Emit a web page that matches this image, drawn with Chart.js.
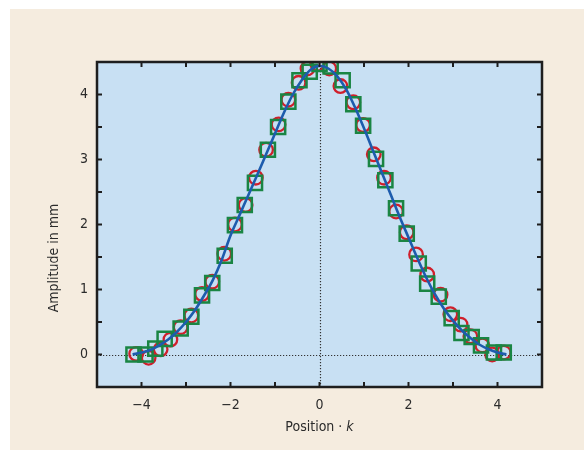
<!DOCTYPE html>
<html>
<head>
<meta charset="utf-8">
<script src="https://cdn.jsdelivr.net/npm/chart.js@4"></script>
<style>
  html, body { margin: 0; padding: 0; background: #ffffff; }
  #wrap { width: 584px; height: 450px; }
</style>
</head>
<body>
<div id="wrap"><canvas id="myChart" width="584" height="450"></canvas></div>
<script>
// Measured points (squares)
var squareX = [-4.18, -3.91, -3.69, -3.48, -3.12, -2.88, -2.64, -2.41, -2.13, -1.90, -1.68, -1.45, -1.16, -0.93, -0.70, -0.45, -0.22, 0.00,
               0.25, 0.52, 0.76, 0.98, 1.27, 1.48, 1.72, 1.96, 2.23, 2.42, 2.68, 2.97, 3.19, 3.42, 3.63, 3.92, 4.14];
var squareY = [0.00, 0.00, 0.09, 0.24, 0.40, 0.58, 0.91, 1.10, 1.52, 1.99, 2.30, 2.64, 3.15, 3.50, 3.89, 4.22, 4.35, 4.47,
               4.43, 4.22, 3.85, 3.52, 3.01, 2.68, 2.25, 1.86, 1.40, 1.09, 0.89, 0.56, 0.33, 0.27, 0.14, 0.03, 0.03];

// Measured points (circles)
var circleX = [-4.12, -3.84, -3.57, -3.35, -3.12, -2.88, -2.64, -2.41, -2.14, -1.90, -1.66, -1.43, -1.20, -0.92, -0.70, -0.47, -0.27, -0.05,
               0.22, 0.47, 0.76, 0.98, 1.22, 1.45, 1.72, 1.96, 2.17, 2.42, 2.72, 2.94, 3.17, 3.39, 3.66, 3.88, 4.14];
var circleY = [0.01, -0.05, 0.08, 0.23, 0.42, 0.60, 0.93, 1.12, 1.55, 2.00, 2.30, 2.72, 3.15, 3.54, 3.92, 4.18, 4.40, 4.47,
               4.40, 4.13, 3.88, 3.53, 3.08, 2.72, 2.20, 1.88, 1.54, 1.23, 0.92, 0.62, 0.46, 0.28, 0.14, 0.00, 0.03];

// Fitted curve
var curveX = [-4.2, -4.0, -3.8, -3.6, -3.4, -3.2, -3.0, -2.8, -2.6, -2.4, -2.2, -2.0, -1.8, -1.6, -1.4, -1.2, -1.0, -0.8, -0.6, -0.4, -0.2, 0.0,
              0.2, 0.4, 0.6, 0.8, 1.0, 1.2, 1.4, 1.6, 1.8, 2.0, 2.2, 2.4, 2.6, 2.8, 3.0, 3.2, 3.4, 3.6, 3.8, 4.0, 4.2];
var curveY = [0.00, 0.03, 0.07, 0.14, 0.23, 0.35, 0.50, 0.68, 0.90, 1.14, 1.45, 1.83, 2.14, 2.45, 2.76, 3.08, 3.40, 3.72, 4.00, 4.22, 4.38, 4.44,
              4.40, 4.28, 4.08, 3.80, 3.48, 3.14, 2.80, 2.46, 2.12, 1.80, 1.48, 1.18, 0.92, 0.70, 0.52, 0.37, 0.25, 0.15, 0.08, 0.03, 0.00];

var xTicks = [-4, -2, 0, 2, 4];
var yTicks = [0, 1, 2, 3, 4];

function toPoints(xs, ys) {
    return xs.map(function (x, i) { return { x: x, y: ys[i] }; });
}

var FONT = "'Liberation Sans Narrow', 'DejaVu Sans Condensed', sans-serif";
var TEXT = "#2b2b2b";

// Backgrounds, dotted zero lines, frame, inward ticks and axis titles
var decor = {
    id: "decor",
    beforeDraw: function (chart) {
        var ctx = chart.ctx, a = chart.chartArea;
        ctx.save();
        ctx.fillStyle = "#ffffff";
        ctx.fillRect(0, 0, chart.width, chart.height);
        ctx.fillStyle = "#f5ecdf";
        ctx.fillRect(10, 9, chart.width - 10, chart.height - 9);
        ctx.fillStyle = "#c8e0f3";
        ctx.fillRect(a.left, a.top, a.right - a.left, a.bottom - a.top);
        ctx.restore();
    },
    beforeDatasetsDraw: function (chart) {
        var ctx = chart.ctx, a = chart.chartArea;
        var x0 = Math.round(chart.scales.x.getPixelForValue(0)) + 0.5;
        var y0 = Math.round(chart.scales.y.getPixelForValue(0)) + 0.5;
        ctx.save();
        ctx.strokeStyle = "#333333";
        ctx.lineWidth = 1.2;
        ctx.setLineDash([1.2, 1.8]);
        ctx.beginPath();
        ctx.moveTo(x0, a.top); ctx.lineTo(x0, a.bottom);
        ctx.moveTo(a.left, y0); ctx.lineTo(a.right, y0);
        ctx.stroke();
        ctx.restore();
    },
    afterDraw: function (chart) {
        var ctx = chart.ctx, a = chart.chartArea;
        var xs = chart.scales.x, ys = chart.scales.y;
        ctx.save();
        ctx.strokeStyle = "#1e1e1e";
        ctx.lineWidth = 2;
        var v, p;
        ctx.beginPath();
        for (v = -4; v <= 4; v += 1) {
            p = xs.getPixelForValue(v);
            ctx.moveTo(p, a.bottom); ctx.lineTo(p, a.bottom - 5);
            ctx.moveTo(p, a.top); ctx.lineTo(p, a.top + 5);
        }
        for (v = 0; v <= 4; v += 0.5) {
            p = ys.getPixelForValue(v);
            ctx.moveTo(a.left, p); ctx.lineTo(a.left + 5, p);
            ctx.moveTo(a.right, p); ctx.lineTo(a.right - 5, p);
        }
        ctx.stroke();
        ctx.lineWidth = 2.5;
        ctx.strokeRect(a.left, a.top, a.right - a.left, a.bottom - a.top);

        // axis titles
        ctx.fillStyle = TEXT;
        ctx.textBaseline = "middle";
        var t1 = "Position · ", t2 = "k";
        ctx.font = "14px " + FONT;
        var w1 = ctx.measureText(t1).width;
        ctx.font = "italic 14px " + FONT;
        var w2 = ctx.measureText(t2).width;
        var cx = (a.left + a.right) / 2 - (w1 + w2) / 2;
        ctx.textAlign = "left";
        ctx.font = "14px " + FONT;
        ctx.fillText(t1, cx, 427);
        ctx.font = "italic 14px " + FONT;
        ctx.fillText(t2, cx + w1, 427);

        ctx.translate(54, 258);
        ctx.rotate(-Math.PI / 2);
        ctx.textAlign = "center";
        ctx.font = "14px " + FONT;
        ctx.fillText("Amplitude in mm", 0, 0);
        ctx.restore();
    }
};

var ctx = document.getElementById("myChart").getContext("2d");

var myChart = new Chart(ctx, {
    type: "scatter",
    data: {
        datasets: [
            {
                label: "Fit",
                type: "line",
                data: toPoints(curveX, curveY),
                borderColor: "#1d5cad",
                borderWidth: 2.6,
                pointRadius: 0,
                fill: false,
                cubicInterpolationMode: "monotone",
                order: 0,
            },
            {
                label: "Squares",
                data: toPoints(squareX, squareY),
                pointStyle: "rect",
                pointRadius: 10,
                pointBorderWidth: 2.5,
                borderColor: "#1a8543",
                backgroundColor: "rgba(0,0,0,0)",
                order: 1,
            },
            {
                label: "Circles",
                data: toPoints(circleX, circleY),
                pointStyle: "circle",
                pointRadius: 6.8,
                pointBorderWidth: 2.3,
                borderColor: "#d01f2b",
                backgroundColor: "rgba(0,0,0,0)",
                order: 2,
            },
        ],
    },
    options: {
        responsive: false,
        animation: false,
        layout: { padding: { top: 62, right: 42, left: 0, bottom: 0 } },
        plugins: {
            legend: { display: false },
            tooltip: { enabled: false },
        },
        scales: {
            x: {
                type: "linear",
                min: -5,
                max: 5,
                afterFit: function (s) { s.height = 63; },
                afterBuildTicks: function (s) {
                    s.ticks = xTicks.map(function (v) { return { value: v }; });
                },
                grid: { display: false, drawTicks: false },
                border: { display: false },
                ticks: {
                    padding: 10,
                    color: TEXT,
                    font: { family: FONT, size: 14 },
                    maxRotation: 0,
                    callback: function (v) { return v < 0 ? "\u2212" + Math.abs(v) : String(v); },
                },
            },
            y: {
                min: -0.5,
                max: 4.5,
                afterFit: function (s) { s.width = 97; },
                afterBuildTicks: function (s) {
                    s.ticks = yTicks.map(function (v) { return { value: v }; });
                },
                grid: { display: false, drawTicks: false },
                border: { display: false },
                ticks: {
                    padding: 9,
                    color: TEXT,
                    font: { family: FONT, size: 14 },
                    callback: function (v) { return String(v); },
                },
            },
        },
    },
    plugins: [decor],
});
</script>
</body>
</html>
